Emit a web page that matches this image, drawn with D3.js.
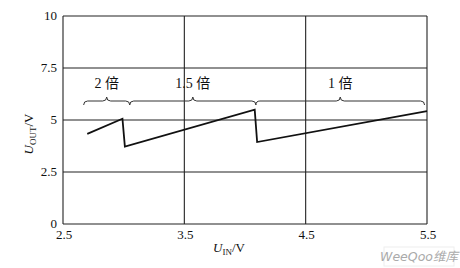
<!DOCTYPE html>
<html>
<head>
<meta charset="utf-8">
<script src="https://cdn.jsdelivr.net/npm/d3@7"></script>
<style>
  body { margin: 0; background: #fff; }
  svg { display: block; }
  text { font-family: "Liberation Serif", "DejaVu Serif", serif; fill: #111; }
</style>
</head>
<body>
<svg id="chart" width="460" height="268"></svg>
<script>
// data
const xTicks = [2.5, 3.5, 4.5, 5.5];
const yTicks = [0, 2.5, 5, 7.5, 10];
const uIn  = [2.70, 2.99, 3.01, 4.08, 4.10, 5.50];
const uOut = [4.33, 5.06, 3.72, 5.50, 3.94, 5.43];
const modeLabels = ['2 倍', '1.5 倍', '1 倍'];
const modeStart = [2.67, 3.05, 4.09];
const modeEnd   = [3.05, 4.09, 5.48];

const svg = d3.select('#chart');
const plotL = 63, plotR = 427, plotT = 16, plotB = 224;

const x = d3.scaleLinear().domain([2.5, 5.5]).range([plotL, plotR]);
const y = d3.scaleLinear().domain([0, 10]).range([plotB, plotT]);

// grid + frame
const g = svg.append('g');
g.selectAll('.vgrid').data(xTicks).enter().append('line')
  .attr('x1', d => x(d)).attr('x2', d => x(d))
  .attr('y1', plotT).attr('y2', plotB)
  .attr('stroke', '#222').attr('stroke-width', 1.1);
g.selectAll('.hgrid').data(yTicks).enter().append('line')
  .attr('x1', plotL).attr('x2', plotR)
  .attr('y1', d => y(d)).attr('y2', d => y(d))
  .attr('stroke', '#222').attr('stroke-width', 1.1);

// tick labels
g.selectAll('.ylab').data(yTicks).enter().append('text')
  .attr('x', plotL - 6).attr('y', d => y(d) + 4)
  .attr('text-anchor', 'end').attr('font-size', 13)
  .text(d => d);
g.selectAll('.xlab').data(xTicks).enter().append('text')
  .attr('x', d => x(d) + 1).attr('y', plotB + 15)
  .attr('text-anchor', 'middle').attr('font-size', 13)
  .text(d => d);

// axis titles
const xt = svg.append('text').attr('x', 229).attr('y', 252)
  .attr('text-anchor', 'middle').attr('font-size', 13);
xt.append('tspan').attr('font-style', 'italic').text('U');
xt.append('tspan').attr('font-size', 9).attr('dy', 3).text('IN');
xt.append('tspan').attr('dy', -3).text('/V');

const yt = svg.append('text')
  .attr('transform', 'translate(33,134) rotate(-90)')
  .attr('text-anchor', 'middle').attr('font-size', 13);
yt.append('tspan').attr('font-style', 'italic').text('U');
yt.append('tspan').attr('font-size', 9).attr('dy', 3).text('OUT');
yt.append('tspan').attr('dy', -3).text('/V');

// output curve
const pts = uIn.map((v, i) => [v, uOut[i]]);
svg.append('path')
  .attr('d', d3.line().x(d => x(d[0])).y(d => y(d[1]))(pts))
  .attr('fill', 'none').attr('stroke', '#111').attr('stroke-width', 1.8)
  .attr('stroke-linejoin', 'miter');

// braces
function brace(x0, x1, yb) {
  const xm = (x0 + x1) / 2, h = 4;
  return `M${x0},${yb + h}Q${x0},${yb} ${x0 + h},${yb}L${xm - h},${yb}Q${xm},${yb} ${xm},${yb - h}` +
         `Q${xm},${yb} ${xm + h},${yb}L${x1 - h},${yb}Q${x1},${yb} ${x1},${yb + h}`;
}
const braceY = 101;
svg.selectAll('.brace').data(modeLabels).enter().append('path')
  .attr('d', (d, i) => brace(x(modeStart[i]), x(modeEnd[i]), braceY))
  .attr('fill', 'none').attr('stroke', '#333').attr('stroke-width', 1);
svg.selectAll('.mode').data(modeLabels).enter().append('text')
  .attr('x', (d, i) => (x(modeStart[i]) + x(modeEnd[i])) / 2)
  .attr('y', 88).attr('text-anchor', 'middle').attr('font-size', 14)
  .style('font-family', '"Liberation Serif", "Noto Sans CJK SC", serif')
  .text(d => d);

// watermark
svg.append('rect').attr('x', 384).attr('y', 247).attr('width', 70).attr('height', 19)
  .attr('fill', '#fff').attr('stroke', '#eee');
svg.append('text').attr('x', 419).attr('y', 261).attr('text-anchor', 'middle')
  .attr('font-size', 12.5).attr('font-style', 'italic')
  .style('font-family', '"DejaVu Sans", "Noto Sans CJK SC", sans-serif')
  .style('fill', '#aaa').text('WeeQoo维库');
</script>
</body>
</html>
